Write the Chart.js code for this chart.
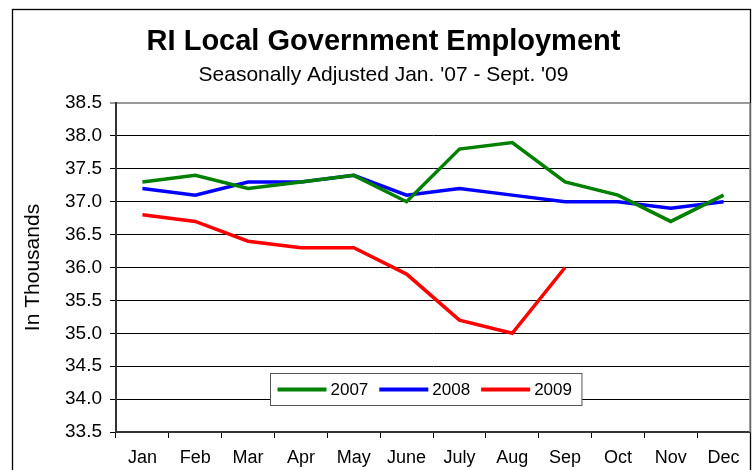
<!DOCTYPE html>
<html lang="en">
<head>
    <meta charset="UTF-8">
    <title>RI Local Government Employment</title>
    <style>
        html, body {
            margin: 0;
            padding: 0;
            background: #fff;
        }
        #wrap {
            width: 754px;
            height: 470px;
        }
    </style>
    <script src="https://cdn.jsdelivr.net/npm/chart.js"></script>
</head>
<body>
    <div id="wrap">
        <canvas id="empChart" width="754" height="470"></canvas>
    </div>

    <script>
        // data (thousands)
        const months = ['Jan', 'Feb', 'Mar', 'Apr', 'May', 'June', 'July', 'Aug', 'Sep', 'Oct', 'Nov', 'Dec'];
        const emp2007 = [37.3, 37.4, 37.2, 37.3, 37.4, 37.0, 37.8, 37.9, 37.3, 37.1, 36.7, 37.1];
        const emp2008 = [37.2, 37.1, 37.3, 37.3, 37.4, 37.1, 37.2, 37.1, 37.0, 37.0, 36.9, 37.0];
        const emp2009 = [36.8, 36.7, 36.4, 36.3, 36.3, 35.9, 35.2, 35.0, 36.0];
        const yMin = 33.5;
        const yMax = 38.5;
        const yStep = 0.5;

        const fontFamily = "'Liberation Sans', Arial, sans-serif";

        // outer frame round the whole chart
        const framePlugin = {
            id: 'frame',
            beforeDraw(chart) {
                const ctx = chart.ctx;
                ctx.save();
                ctx.fillStyle = '#fff';
                ctx.fillRect(0, 0, chart.width, chart.height);
                ctx.strokeStyle = '#000';
                ctx.lineWidth = 1.3;
                ctx.strokeRect(12.5, 9.5, 738, 480);
                ctx.restore();
            },
            afterDraw(chart) {
                // right edge of the plot
                const a = chart.chartArea;
                const ctx = chart.ctx;
                ctx.save();
                ctx.strokeStyle = '#888';
                ctx.lineWidth = 1.5;
                ctx.beginPath();
                ctx.moveTo(a.right, a.top);
                ctx.lineTo(a.right, a.bottom);
                ctx.stroke();
                ctx.restore();
            }
        };

        // legend box inside the plot, near the bottom
        const boxLegend = {
            id: 'boxLegend',
            afterDraw(chart) {
                const ctx = chart.ctx;
                const a = chart.chartArea;
                const sets = chart.data.datasets;
                ctx.save();
                ctx.font = '17px ' + fontFamily;
                const sample = 49;
                const gap = 4;
                const itemGap = 11;
                let w = 7;
                sets.forEach((ds, i) => {
                    w += sample + gap + ctx.measureText(ds.label).width + (i < sets.length - 1 ? itemGap : 0);
                });
                w += 10;
                const h = 32;
                const x0 = Math.round(a.left + 154) + 0.5;
                const y0 = Math.round(a.bottom - 59) + 0.5;
                ctx.fillStyle = '#fff';
                ctx.fillRect(x0, y0, w, h);
                ctx.strokeStyle = '#555';
                ctx.lineWidth = 1;
                ctx.strokeRect(x0, y0, w, h);

                let x = x0 + 7;
                const cy = y0 + h / 2;
                sets.forEach(ds => {
                    ctx.strokeStyle = ds.borderColor;
                    ctx.lineWidth = 4;
                    ctx.beginPath();
                    ctx.moveTo(x, cy);
                    ctx.lineTo(x + sample, cy);
                    ctx.stroke();
                    x += sample + gap;
                    ctx.fillStyle = '#000';
                    ctx.textBaseline = 'middle';
                    ctx.textAlign = 'left';
                    ctx.fillText(ds.label, x, cy + 1);
                    x += ctx.measureText(ds.label).width + itemGap;
                });
                ctx.restore();
            }
        };

        function lineSet(label, data, color) {
            return {
                label: label,
                data: data,
                borderColor: color,
                backgroundColor: color,
                borderWidth: 3.5,
                pointRadius: 0,
                pointHoverRadius: 0,
                tension: 0,
                fill: false
            };
        }

        const ctx = document.getElementById('empChart').getContext('2d');
        new Chart(ctx, {
            type: 'line',
            data: {
                labels: months,
                datasets: [
                    lineSet('2007', emp2007, '#008000'),
                    lineSet('2008', emp2008, '#0000ff'),
                    lineSet('2009', emp2009, '#ff0000')
                ]
            },
            options: {
                responsive: false,
                animation: false,
                layout: {
                    padding: { top: 25, right: 4, bottom: 0, left: 17 }
                },
                scales: {
                    x: {
                        offset: true,
                        grid: {
                            offset: true,
                            drawOnChartArea: false,
                            drawTicks: true,
                            tickLength: 6,
                            color: '#000',
                            lineWidth: 1
                        },
                        border: { display: true, color: '#333', width: 2 },
                        ticks: {
                            color: '#000',
                            padding: 9,
                            maxRotation: 0,
                            autoSkip: false,
                            font: { family: fontFamily, size: 18 }
                        },
                        afterFit(scale) { scale.height = 38; }
                    },
                    y: {
                        min: yMin,
                        max: yMax,
                        ticks: {
                            stepSize: yStep,
                            color: '#000',
                            padding: 8,
                            font: { family: fontFamily, size: 19 },
                            callback: v => v.toFixed(1)
                        },
                        grid: {
                            color: c => (c.tick && c.tick.value === yMax) ? '#999' : '#000',
                            lineWidth: c => (c.tick && c.tick.value === yMax) ? 2 : 1,
                            tickLength: 6
                        },
                        border: { display: true, color: '#333', width: 2 },
                        title: {
                            display: true,
                            text: 'In Thousands',
                            color: '#000',
                            padding: { top: 4, bottom: 0 },
                            font: { family: fontFamily, size: 21 }
                        },
                        afterFit(scale) { scale.width = 99; }
                    }
                },
                plugins: {
                    legend: { display: false },
                    tooltip: { enabled: false },
                    title: {
                        display: true,
                        text: 'RI Local Government Employment',
                        color: '#000',
                        padding: { top: 0, bottom: 3 },
                        font: { family: fontFamily, size: 29, weight: 'bold' }
                    },
                    subtitle: {
                        display: true,
                        text: "Seasonally Adjusted Jan. '07 - Sept. '09",
                        color: '#000',
                        padding: { top: 0, bottom: 15 },
                        font: { family: fontFamily, size: 21 }
                    }
                }
            },
            plugins: [framePlugin, boxLegend]
        });
    </script>
</body>
</html>
